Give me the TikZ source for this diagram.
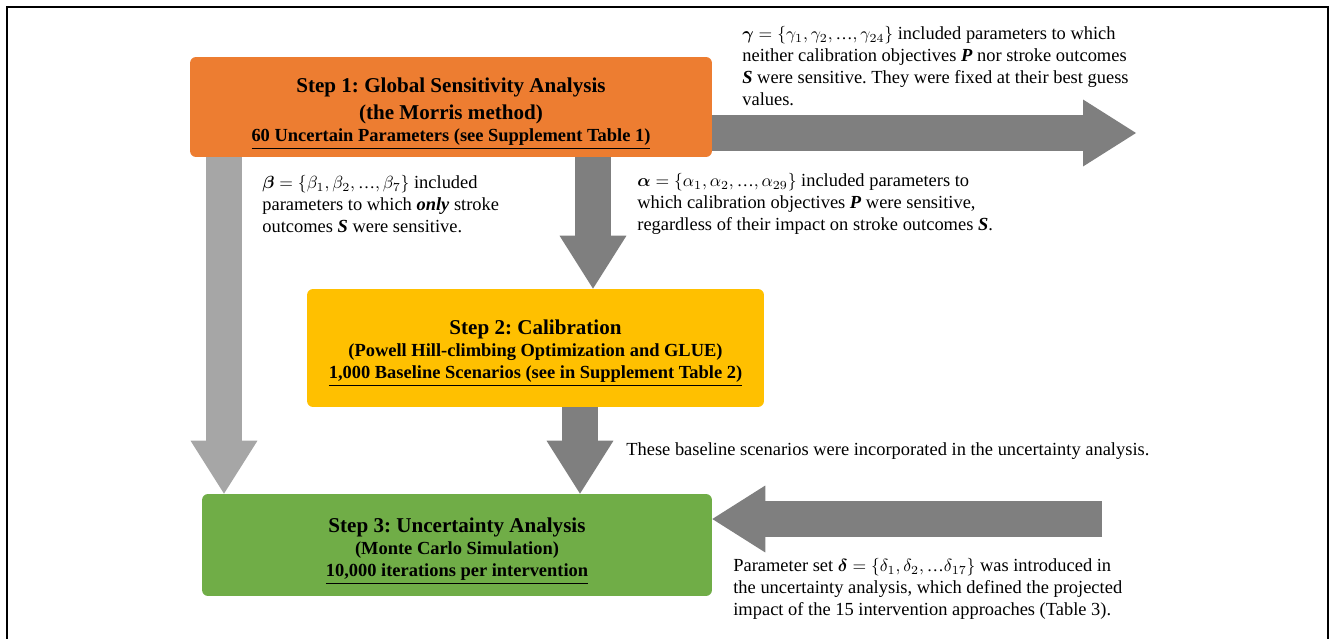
\documentclass[tikz,border=0pt]{standalone}
\usepackage{amsmath}
\usepackage{bm}
\usepackage{fontspec}
\setmainfont{Liberation Serif}
\usetikzlibrary{arrows.meta}
\frenchspacing
\definecolor{stepone}{HTML}{ED7D31}
\definecolor{steptwo}{HTML}{FFC000}
\definecolor{stepthree}{HTML}{70AD47}
\definecolor{darkarrow}{HTML}{7F7F7F}
\definecolor{lightarrow}{HTML}{A6A6A6}
\tikzset{
  stepbox/.style={rounded corners=0.12cm,inner sep=0pt},
  steptext/.style={anchor=north,align=center,inner sep=0pt,
    font=\fontsize{10.5}{12.5}\selectfont\bfseries},
  blockarrow/.style={line width=0.72cm,
    -{Triangle[length=1.06cm,width=1.34cm,line width=0pt]}},
  note/.style={anchor=north west,align=left,inner sep=0pt,
    font=\fontsize{10.5}{12.5}\selectfont}
}
\newcommand{\steptitle}[1]{{\fontsize{12}{14.8}\selectfont #1}}
\newcommand{\bi}[1]{\textbf{\textit{#1}}}
\newcommand{\mdots}{\text{…}}
\newcommand{\pset}[1]{{\fontsize{9.7}{12.5}\selectfont$#1$}}
\begin{document}
\begin{tikzpicture}[x=0.02cm,y=-0.02cm]
\useasboundingbox(0,0)rectangle(1329,639);
\draw[line width=0.04cm](7,639)--(7,7)--(1328,7)--(1328,639); %frame
%steps
\node[stepbox,fill=stepone,minimum width=10.44cm,minimum height=2cm](step1)at(451,107){};
\node[stepbox,fill=steptwo,minimum width=9.14cm,minimum height=2.36cm](step2)at(535.5,348){};
\node[stepbox,fill=stepthree,minimum width=10.2cm,minimum height=2.04cm](step3)at(457,545){};
\node[steptext](step1text)at(451,78){\steptitle{Step 1: Global Sensitivity Analysis}\\[2.5pt]
\steptitle{(the Morris method)}\\\underline{60 Uncertain Parameters (see Supplement Table 1)}};
\node[steptext](step2text)at(535.5,320){\steptitle{Step 2: Calibration}\\
(Powell Hill-climbing Optimization and GLUE)\\\underline{1,000 Baseline Scenarios (see in Supplement Table 2)}};
\node[steptext](step3text)at(457,518){\steptitle{Step 3: Uncertainty Analysis}\\
(Monte Carlo Simulation)\\\underline{10,000 iterations per intervention}};
%ends of the side arrows
\coordinate(gammaend)at(1136,133);
\coordinate(deltastart)at(1102,519);
%arrows
\draw[blockarrow,darkarrow](step1.east|-gammaend)--(gammaend);
\draw[blockarrow,lightarrow](224,0|-step1.south)--(224,0|-step3.north);
\draw[blockarrow,darkarrow](593,0|-step1.south)--(593,0|-step2.north);
\draw[blockarrow,darkarrow](580,0|-step2.south)--(580,0|-step3.north);
\draw[blockarrow,darkarrow](deltastart)--(step3.east|-deltastart);
%labels
\node[note](gammatext)at(742,26){\pset{\boldsymbol{\gamma}=\{\gamma_1,\gamma_2,\mdots,\gamma_{24}\}} included parameters to which\\
neither calibration objectives \bi{P} nor stroke outcomes\\
\bi{S} were sensitive. They were fixed at their best guess\\values.};
\node[note](betatext)at(262,175){\pset{\boldsymbol{\beta}=\{\beta_1,\beta_2,\mdots,\beta_7\}} included\\
parameters to which \bi{only} stroke\\outcomes \bi{S} were sensitive.};
\node[note](alphatext)at(637,173){\pset{\boldsymbol{\alpha}=\{\alpha_1,\alpha_2,\mdots,\alpha_{29}\}} included parameters to\\
which calibration objectives \bi{P} were sensitive,\\
regardless of their impact on stroke outcomes \bi{S}.};
\node[note](basetext)at(626,442){These baseline scenarios were incorporated in the uncertainty analysis.};
\node[note](deltatext)at(733,558){Parameter set \pset{\boldsymbol{\delta}=\{\delta_1,\delta_2,\mdots\delta_{17}\}} was introduced in\\
the uncertainty analysis, which defined the projected\\
impact of the 15 intervention approaches (Table 3).};
\end{tikzpicture}
\end{document}
